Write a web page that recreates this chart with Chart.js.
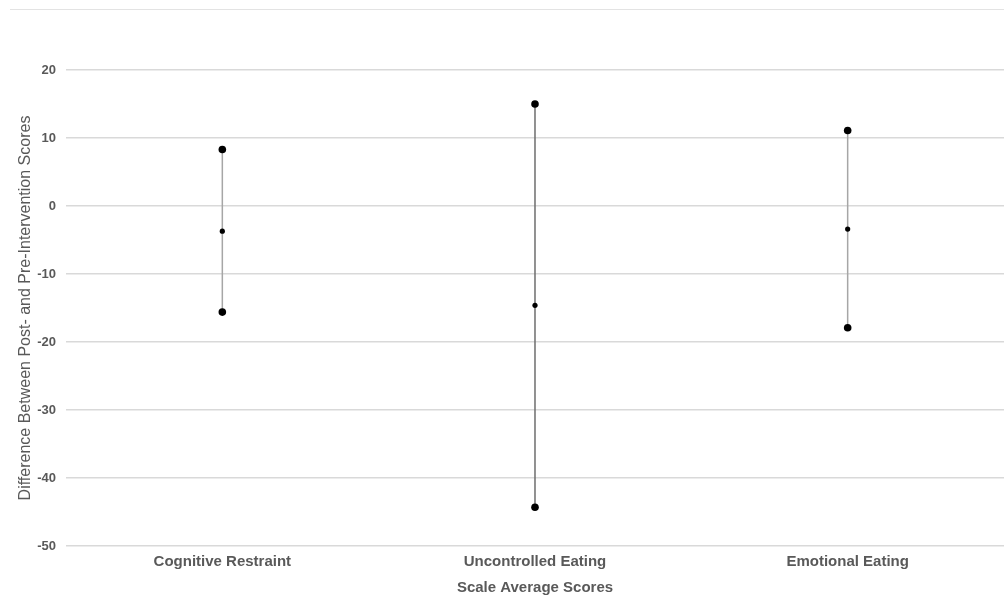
<!DOCTYPE html>
<html>
<head>
<meta charset="utf-8">
<script src="https://cdn.jsdelivr.net/npm/chart.js@4.4.1/dist/chart.umd.min.js"></script>
<style>
  html, body { margin: 0; padding: 0; background: #ffffff; }
  #wrap { position: relative; width: 1004px; height: 597px; overflow: hidden; }
  #topline { position: absolute; left: 10px; right: 0; top: 9px; height: 1px; background: #e3e3e3; }
  canvas { position: absolute; left: 0; top: 0; }
</style>
</head>
<body>
<div id="wrap">
  <div id="topline"></div>
  <canvas id="c" width="1008" height="597"></canvas>
</div>
<script>
const categories = ['Cognitive Restraint', 'Uncontrolled Eating', 'Emotional Eating'];
const upperValues = [8.3, 15.0, 11.1];
const meanValues = [-3.7, -14.6, -3.4];
const lowerValues = [-15.6, -44.3, -17.9];
const lineColors = ['#a6a6a6', '#6e6e6e', '#a6a6a6'];
const yMin = -50, yMax = 20, yStep = 10;

const datasets = categories.map((cat, i) => ({
  label: cat,
  data: [
    { x: cat, y: upperValues[i] },
    { x: cat, y: meanValues[i] },
    { x: cat, y: lowerValues[i] }
  ],
  showLine: true,
  borderColor: lineColors[i],
  borderWidth: 1.5,
  pointBackgroundColor: '#000000',
  pointBorderColor: '#000000',
  pointBorderWidth: 0,
  pointRadius: [3.8, 2.6, 3.8],
  fill: false
}));

const FONT = 'Liberation Sans, Arial, sans-serif';

new Chart(document.getElementById('c'), {
  type: 'line',
  data: { labels: categories, datasets: datasets },
  options: {
    responsive: false,
    animation: false,
    layout: { padding: { top: 70, right: 0, left: 16, bottom: 0 } },
    plugins: { legend: { display: false }, tooltip: { enabled: false } },
    scales: {
      x: {
        type: 'category',
        offset: true,
        grid: { display: false, drawTicks: false },
        border: { display: false },
        ticks: {
          color: '#595959',
          padding: 7,
          font: { family: FONT, size: 15, weight: 'bold' }
        },
        title: {
          display: true,
          text: 'Scale Average Scores',
          color: '#595959',
          padding: { top: 1, bottom: 0 },
          font: { family: FONT, size: 15, weight: 'bold' }
        }
      },
      y: {
        min: yMin,
        max: yMax,
        grid: { color: '#d9d9d9', lineWidth: 1.5, drawTicks: false },
        border: { display: false },
        ticks: {
          stepSize: yStep,
          color: '#595959',
          padding: 10,
          font: { family: FONT, size: 13, weight: 'bold' }
        },
        title: {
          display: true,
          text: 'Difference Between Post- and Pre-Intervention Scores',
          color: '#595959',
          padding: { top: 0, bottom: -8 },
          font: { family: FONT, size: 16 }
        }
      }
    }
  }
});
</script>
</body>
</html>
